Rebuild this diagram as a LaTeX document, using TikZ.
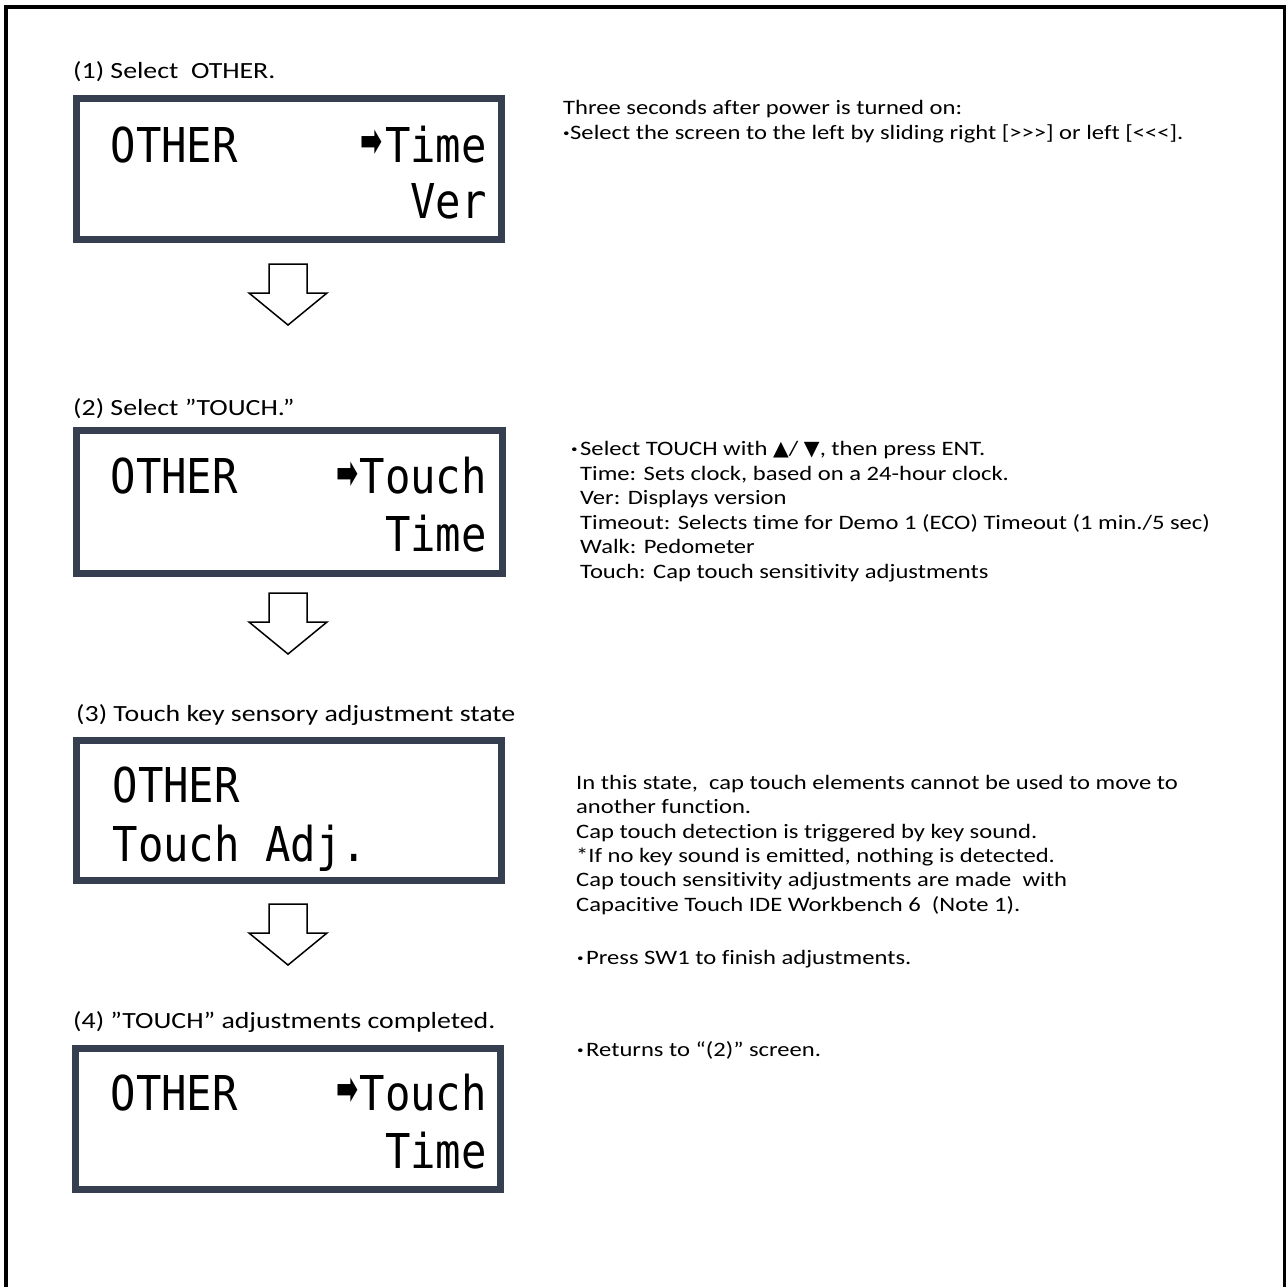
\documentclass[tikz,border=0pt]{standalone}
\usepackage{fontspec}
\setmainfont{Carlito}[FakeStretch=1.2, Ligatures={TeXOff,CommonOff}]
\newfontfamily\lcdfont{DejaVu Sans Mono}[FakeStretch=0.88]
\newfontfamily\symfont{DejaVu Sans}
\definecolor{lcdframe}{HTML}{353F4F}
\newcommand\dotmark[1]{\makebox[#1][l]{\textbf{·}}}
\newcommand\lcdpointer{\scalebox{1.1}[1.9]{\fontsize{24}{24}\symfont\bfseries ➡}}
\tikzset{
  lcdbox/.style={draw=lcdframe, line width=7pt, minimum width=425pt, minimum height=141pt, inner sep=0pt},
  lcdtxt/.style={font=\fontsize{48}{48}\lcdfont, inner sep=0pt},
  lcdarrow/.style={inner sep=0pt, anchor=center},
  lbl/.style={font=\fontsize{23.2}{27}\selectfont, anchor=base west, inner sep=0pt},
  body/.style={font=\fontsize{20.5}{24.6}\selectfont, anchor=base west, inner sep=0pt},
  blockarrow/.style={draw=black, line width=1.5pt, fill=white, line join=miter},
  frame/.style={draw=black, line width=3.5pt}
}
\newcommand\downarrowshape[1]{%
  \draw[blockarrow] (269,#1) -- (307,#1) -- (307,#1+29) -- (327,#1+29) -- (288,#1+61) -- (249,#1+29) -- (269,#1+29) -- cycle;}
\begin{document}
\begin{tikzpicture}[x=1pt,y=-1pt]
\useasboundingbox (0,0) rectangle (1287,1286);
\draw[frame] (6,7) rectangle (1284.5,1330);

% labels
\node[lbl] (l1) at (73,78) {(1) Select\ \ OTHER.};
\node[lbl] (l2) at (73,415) {(2) Select ”TOUCH.”};
\node[lbl] (l3) at (76,721) {(3) Touch key sensory adjustment state};
\node[lbl] (l4) at (73,1028) {(4) ”TOUCH” adjustments completed.};

% LCD boxes
\node[lcdbox] (b1) at (289,169) {};
\node[lcdbox, minimum width=426pt, minimum height=143pt] (b2) at (289.5,502) {};
\node[lcdbox, minimum height=140pt] (b3) at (289,810.5) {};
\node[lcdbox] (b4) at (288,1119) {};

% box 1
\node[lcdtxt, anchor=base west] (b1a) at (110.5,162) {OTHER};
\node[lcdarrow] (b1r) at (372,143) {\lcdpointer};
\node[lcdtxt, anchor=base east] (b1b) at (487,162) {Time};
\node[lcdtxt, anchor=base east] (b1c) at (487,218) {Ver};
% box 2
\node[lcdtxt, anchor=base west] (b2a) at (110.5,493) {OTHER};
\node[lcdarrow] (b2r) at (348,475) {\lcdpointer};
\node[lcdtxt, anchor=base east] (b2b) at (487,493) {Touch};
\node[lcdtxt, anchor=base east] (b2c) at (487,551) {Time};
% box 3
\node[lcdtxt, anchor=base west] (b3a) at (112.5,802) {OTHER};
\node[lcdtxt, anchor=base west] (b3b) at (112.5,861) {Touch Adj.};
% box 4
\node[lcdtxt, anchor=base west] (b4a) at (110.5,1110) {OTHER};
\node[lcdarrow] (b4r) at (348,1091) {\lcdpointer};
\node[lcdtxt, anchor=base east] (b4b) at (487,1110) {Touch};
\node[lcdtxt, anchor=base east] (b4c) at (487,1168) {Time};

% block arrows
\downarrowshape{264}
\downarrowshape{593}
\downarrowshape{904}

% right-hand texts
\node[body] (t11) at (563,114) {Three seconds after power is turned on:};
\node[body] (t12) at (563,139) {\dotmark{7pt}Select the screen to the left by sliding right [>>>] or left [<<<].};

\node[body] (t21) at (571,455) {\dotmark{9pt}Select TOUCH with {\symfont ▲}/ {\symfont ▼}, then press ENT.};
\node[body] (t22) at (580,480) {Time: Sets clock, based on a 24-hour clock.};
\node[body] (t23) at (580,504) {Ver: Displays version};
\node[body] (t24) at (580,529) {Timeout: Selects time for Demo 1 (ECO) Timeout (1 min./5 sec)};
\node[body] (t25) at (580,553) {Walk: Pedometer};
\node[body] (t26) at (580,578) {Touch: Cap touch sensitivity adjustments};

\node[body] (t31) at (576,789) {In this state,\ \ cap touch elements cannot be used to move to};
\node[body] (t32) at (576,813) {another function.};
\node[body] (t33) at (576,838) {Cap touch detection is triggered by key sound.};
\node[body] (t34) at (576,862) {*If no key sound is emitted, nothing is detected.};
\node[body] (t35) at (576,886) {Cap touch sensitivity adjustments are made\ \ with};
\node[body] (t36) at (576,911) {Capacitive Touch IDE Workbench 6\ \ (Note 1).};
\node[body] (t37) at (577,964) {\dotmark{9pt}Press SW1 to finish adjustments.};

\node[body] (t41) at (577,1056) {\dotmark{9pt}Returns to “(2)” screen.};
\end{tikzpicture}
\end{document}
